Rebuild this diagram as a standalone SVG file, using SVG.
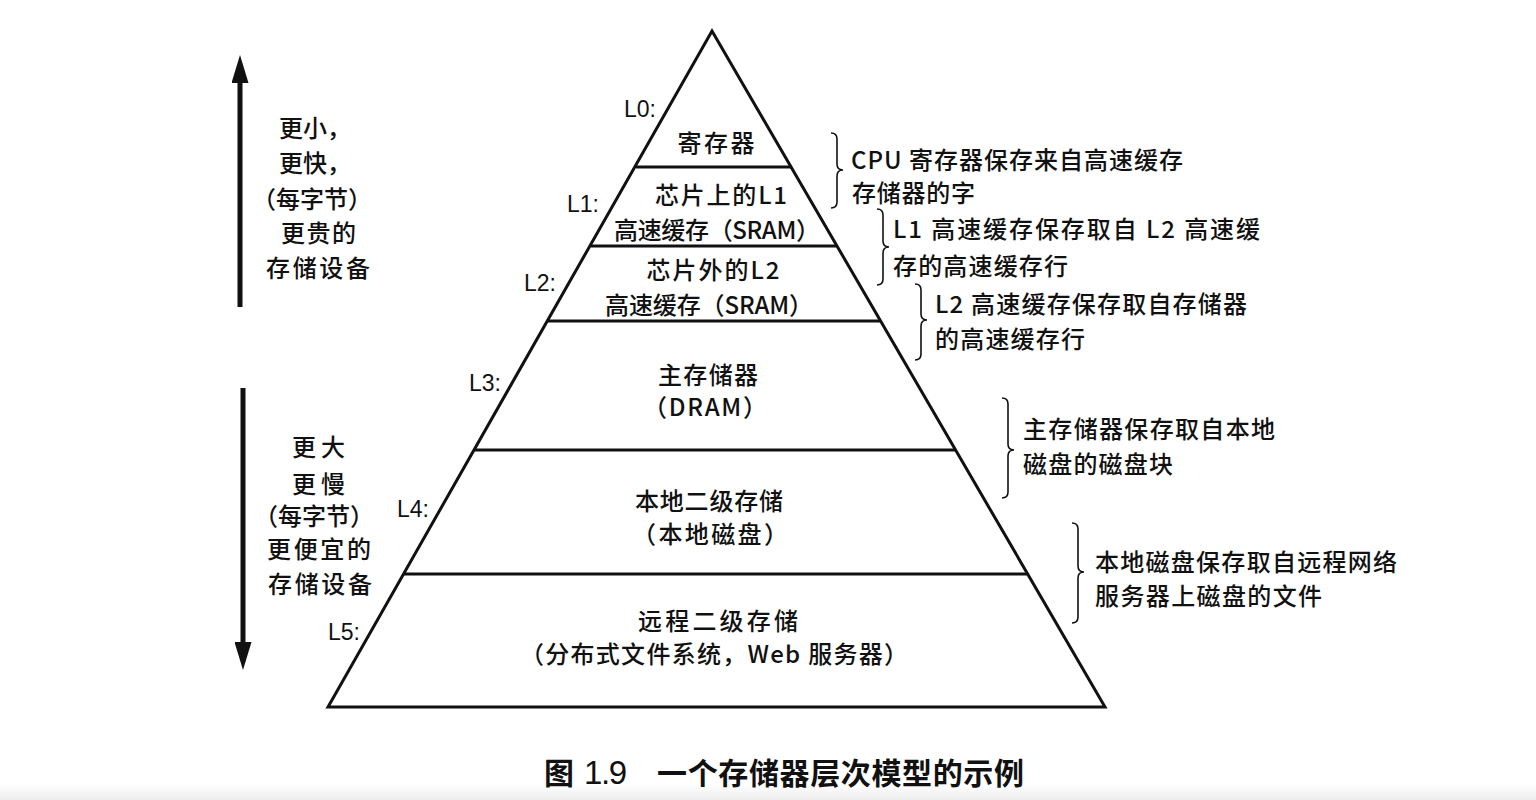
<svg xmlns="http://www.w3.org/2000/svg" width="1536" height="800" viewBox="0 0 1536 800">
<style>
.t{font-family:"Noto Sans CJK SC","Liberation Serif",serif;font-size:24px;fill:#111;font-weight:500}
.c{text-anchor:middle}
.lab{font-family:"Liberation Sans","DejaVu Sans",sans-serif;font-size:23px;fill:#111}
.ln{stroke:#111;stroke-width:3;fill:none}
.ar{stroke:#111;stroke-width:5;fill:none}
.br{stroke:#111;stroke-width:1.6;fill:none}
.cap{font-family:"Noto Sans CJK SC",sans-serif;font-size:30px;font-weight:bold;fill:#111}
.num{font-family:"Liberation Sans",sans-serif;font-size:33px;fill:#111}
</style>
<defs>
<marker id="ah" viewBox="0 0 28 17" refX="0" refY="8.5" markerWidth="28" markerHeight="17" markerUnits="userSpaceOnUse" orient="auto">
<path d="M0,0 L28,8.5 L0,17 z" fill="#111"/>
</marker>
<linearGradient id="bg" x1="0" y1="0" x2="0" y2="1"><stop offset="0" stop-color="#fff"/><stop offset="1" stop-color="#ececec"/></linearGradient>
</defs>
<rect width="1536" height="800" fill="#fff"/>
<rect y="784" width="1536" height="16" fill="url(#bg)"/>
<g id="pyramid">
<polygon class="ln" points="712,31 328,707 1105,707"/>
<line class="ln" x1="636" y1="167" x2="792" y2="167"/>
<line class="ln" x1="591" y1="246" x2="837" y2="246"/>
<line class="ln" x1="548" y1="321" x2="881" y2="321"/>
<line class="ln" x1="475" y1="450" x2="956" y2="450"/>
<line class="ln" x1="404" y1="574" x2="1028" y2="574"/>
</g>
<g id="L0"><text class="lab" x="624" y="117">L0:</text><text class="t c" x="716" y="152" textLength="77">寄存器</text></g>
<g id="L1"><text class="lab" x="567" y="212">L1:</text><text class="t c" x="721" y="204" textLength="132">芯片上的L1</text><text class="t c" x="717" y="239" textLength="206">高速缓存（SRAM）</text></g>
<g id="L2"><text class="lab" x="524" y="291">L2:</text><text class="t c" x="713" y="279" textLength="133">芯片外的L2</text><text class="t c" x="709" y="314" textLength="208">高速缓存（SRAM）</text></g>
<g id="L3"><text class="lab" x="469" y="391">L3:</text><text class="t c" x="708" y="384" textLength="100">主存储器</text><text class="t c" x="705" y="416" textLength="124">（DRAM）</text></g>
<g id="L4"><text class="lab" x="397" y="517">L4:</text><text class="t c" x="709" y="510" textLength="148">本地二级存储</text><text class="t c" x="710" y="543" textLength="156">（本地磁盘）</text></g>
<g id="L5"><text class="lab" x="328" y="640">L5:</text><text class="t c" x="718" y="630" textLength="160">远程二级存储</text><text class="t c" x="714" y="663" textLength="388">（分布式文件系统，Web 服务器）</text></g>
<g id="connectors">
<line class="ar" x1="240" y1="307" x2="240" y2="83" marker-end="url(#ah)"/>
<line class="ar" x1="243" y1="388" x2="243" y2="642" marker-end="url(#ah)"/>
<path class="br" d="M831,133 q6,0 6,6 L837,164 q0,6 6,6 q-6,0 -6,6 L837,202 q0,6 -6,6"/>
<path class="br" d="M877,209 q6,0 6,6 L883,241 q0,6 6,6 q-6,0 -6,6 L883,279 q0,6 -6,6"/>
<path class="br" d="M915,284 q6,0 6,6 L921,314 q0,6 6,6 q-6,0 -6,6 L921,354 q0,6 -6,6"/>
<path class="br" d="M1002,398 q6,0 6,6 L1008,444 q0,6 6,6 q-6,0 -6,6 L1008,492 q0,6 -6,6"/>
<path class="br" d="M1072,523 q6,0 6,6 L1078,566 q0,6 6,6 q-6,0 -6,6 L1078,617 q0,6 -6,6"/>
</g>
<g id="left-top">
<text class="t" x="279" y="137">更小，</text>
<text class="t" x="279" y="172">更快，</text>
<text class="t" x="252" y="208">（每字节）</text>
<text class="t" x="281" y="242" textLength="75">更贵的</text>
<text class="t" x="266" y="277" textLength="104">存储设备</text>
</g>
<g id="left-bottom">
<text class="t" x="292" y="456" textLength="53">更大</text>
<text class="t" x="292" y="493" textLength="53">更慢</text>
<text class="t" x="254" y="525">（每字节）</text>
<text class="t" x="267" y="558" textLength="104">更便宜的</text>
<text class="t" x="268" y="593" textLength="104">存储设备</text>
</g>
<g id="notes">
<text class="t" x="851" y="169" textLength="332">CPU 寄存器保存来自高速缓存</text>
<text class="t" x="852" y="202" textLength="123">存储器的字</text>
<text class="t" x="893" y="238" textLength="367">L1 高速缓存保存取自 L2 高速缓</text>
<text class="t" x="893" y="275" textLength="175">存的高速缓存行</text>
<text class="t" x="935" y="313" textLength="312">L2 高速缓存保存取自存储器</text>
<text class="t" x="935" y="348" textLength="150">的高速缓存行</text>
<text class="t" x="1023" y="438" textLength="252">主存储器保存取自本地</text>
<text class="t" x="1023" y="473" textLength="150">磁盘的磁盘块</text>
<text class="t" x="1095" y="571" textLength="302">本地磁盘保存取自远程网络</text>
<text class="t" x="1095" y="605" textLength="227">服务器上磁盘的文件</text>
</g>
<g id="caption">
<text class="cap" x="544" y="784">图</text>
<text class="num" x="584" y="784" textLength="43">1.9</text>
<text class="cap" x="657" y="784" textLength="367">一个存储器层次模型的示例</text>
</g>
</svg>
